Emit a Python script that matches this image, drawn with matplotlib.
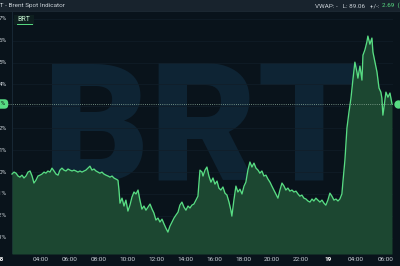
import matplotlib
matplotlib.use('Agg')
import matplotlib.pyplot as plt
from matplotlib import transforms
from matplotlib.patches import Rectangle
from matplotlib.lines import Line2D

# ---- data (hours since session start, % change vs previous close) ----
hours = [0.00, 0.14, 0.28, 0.42, 0.55, 0.69, 0.83, 0.97, 1.11, 1.25, 1.39, 1.52, 1.66, 1.80, 1.94,
         2.08, 2.22, 2.35, 2.49, 2.63, 2.77, 2.91, 3.05, 3.19, 3.32, 3.46, 3.60, 3.74, 3.88, 4.02,
         4.16, 4.29, 4.43, 4.57, 4.71, 4.85, 4.99, 5.12, 5.26, 5.40, 5.54, 5.68, 5.82, 5.96, 6.09,
         6.23, 6.37, 6.51, 6.65, 6.79, 6.93, 7.06, 7.20, 7.34, 7.41, 7.48, 7.62, 7.76, 7.89, 8.03,
         8.17, 8.31, 8.45, 8.59, 8.73, 8.86, 9.00, 9.14, 9.28, 9.42, 9.56, 9.70, 9.83, 9.97, 10.11,
         10.25, 10.39, 10.53, 10.66, 10.80, 10.94, 11.08, 11.22, 11.36, 11.50, 11.63, 11.77, 11.91,
         12.05, 12.19, 12.33, 12.46, 12.60, 12.74, 12.88, 13.02, 13.16, 13.23, 13.37, 13.50, 13.64,
         13.78, 13.92, 14.06, 14.20, 14.33, 14.47, 14.61, 14.75, 14.89, 15.03, 15.16, 15.23, 15.37,
         15.51, 15.65, 15.79, 15.93, 16.07, 16.20, 16.34, 16.48, 16.62, 16.76, 16.90, 17.04, 17.17,
         17.31, 17.45, 17.59, 17.73, 17.87, 18.00, 18.14, 18.28, 18.42, 18.56, 18.70, 18.84, 18.97,
         19.11, 19.25, 19.39, 19.53, 19.67, 19.81, 19.94, 20.08, 20.22, 20.36, 20.50, 20.64, 20.78,
         20.91, 21.05, 21.19, 21.33, 21.47, 21.61, 21.74, 21.88, 22.02, 22.16, 22.30, 22.44, 22.58,
         22.71, 22.85, 22.92, 23.06, 23.20, 23.34, 23.48, 23.61, 23.75, 23.89, 23.96, 24.10, 24.24,
         24.31, 24.44, 24.58, 24.65, 24.79, 24.93, 25.00, 25.14, 25.28, 25.42, 25.55, 25.62, 25.69,
         25.76, 25.90, 26.04, 26.18, 26.32]
pct = [-0.09, 0.00, -0.05, -0.18, -0.23, -0.14, -0.27, -0.18, 0.00, 0.05, -0.18, -0.50, -0.37, -0.18, -0.14,
       -0.09, 0.00, -0.05, 0.05, 0.00, 0.18, 0.05, -0.09, -0.14, 0.09, 0.18, 0.09, 0.05, 0.14, 0.09,
       0.05, 0.09, 0.05, 0.00, 0.05, 0.00, 0.05, 0.09, 0.18, 0.27, 0.09, 0.14, 0.05, 0.00, -0.05,
       0.00, -0.09, -0.14, -0.18, -0.23, -0.18, -0.27, -0.32, -0.37, -0.82, -1.42, -1.19, -1.55, -1.28, -1.78,
       -1.51, -1.14, -0.91, -1.00, -0.82, -1.28, -1.69, -1.55, -1.74, -1.60, -1.46, -1.69, -1.87, -2.19, -2.10,
       -2.28, -2.15, -2.37, -2.56, -2.74, -2.47, -2.28, -2.10, -1.96, -1.83, -1.51, -1.37, -1.60,
       -1.74, -1.55, -1.64, -1.51, -1.46, -1.28, -1.10, 0.09, 0.00, -0.18, 0.09, 0.23, -0.18,
       -0.46, -0.27, -0.55, -0.41, -0.73, -0.82, -0.68, -0.96, -1.05, -1.37, -1.74, -2.01, -1.28,
       -0.64, -0.91, -0.78, -1.00, -0.64, -0.46, 0.09, 0.46, 0.23, 0.41, 0.18, 0.09, -0.05,
       0.05, -0.18, -0.14, -0.32, -0.46, -0.64, -0.82, -1.00, -1.19, -0.82, -0.50, -0.64, -0.82,
       -0.73, -0.87, -0.82, -0.91, -0.87, -1.00, -1.10, -1.05, -1.19, -1.23, -1.32, -1.37, -1.23,
       -1.32, -1.19, -1.28, -1.37, -1.28, -1.42, -1.51, -1.28, -0.96, -1.10, -1.28, -1.23, -1.32,
       -1.23, -1.00, -0.46, 0.55, 2.01, 2.74, 3.38, 4.20, 5.02, 4.57, 4.29, 4.84, 4.20,
       5.34, 5.57, 5.94, 6.21, 5.84, 6.12, 5.48, 5.02, 4.57, 3.84, 3.65, 3.38, 2.60,
       2.92, 3.65, 3.42, 3.61, 3.11]

tick_hours = [-0.85, 2, 4, 6, 8, 10, 12, 14, 16, 18, 20, 21.9, 23.8, 25.9]
tick_labels = ['18', '04:00', '06:00', '08:00', '10:00', '12:00', '14:00',
               '16:00', '18:00', '20:00', '22:00', '19', '04:00', '06:00']
day_labels = ['18', '19']
y_levels = [7, 6, 5, 4, 3, 2, 1, 0, -1, -2, -3]

symbol = 'BRT'
title = 'BRT - Brent Spot Indicator'
last_price = 89.06
change = 2.69
change_pct = 3.11

# ---- style ----
BG = '#09131b'
HDR = '#18232d'
FILL = '#1c4731'
LINE = '#58dc83'
WM = '#0e2434'
GRID = '#111e28'
TXT = '#c9d0d6'
FONT = ['Roboto', 'DejaVu Sans']
plt.rcParams['font.family'] = FONT

W, H = 400, 266
fig = plt.figure(figsize=(4, 2.66), dpi=100)
fig.patch.set_facecolor(BG)

ax = fig.add_axes([-8 / W, (H - 254) / H, 401 / W, 242 / H])
ax.set_facecolor(BG)
ax.set_xlim(-1.385, 26.39)
ax.set_ylim(-3.74, 7.31)
for s in ax.spines.values():
    s.set_visible(False)
ax.set_yticks([])
ax.set_xticks(tick_hours, tick_labels)
ax.tick_params(axis='x', length=0, pad=2.2, labelsize=4.6, colors=TXT)
for lab in ax.get_xticklabels():
    if lab.get_text() in day_labels:
        lab.set_fontweight('bold')
        lab.set_color('#ffffff')

# watermark
ax.text(202 / W, 1 - 181 / H, symbol, transform=fig.transFigure, fontsize=119,
        fontweight='black', color=WM, ha='center', va='baseline', zorder=0.5)

# grid
ax.hlines(y_levels, 0, 26.39, color=GRID, lw=0.5, zorder=0.6)
ax.axvline(0, color='#182835', lw=0.7, zorder=0.6)

# area + line
ax.fill_between(hours, pct, -3.74, color=FILL, lw=0, zorder=2)
ax.plot(hours, pct, color=LINE, lw=0.95, zorder=3, solid_joinstyle='round')

# last value dotted line
ax.hlines(change_pct, -0.3, 26.39, color='#8fae9c', lw=0.6, ls=(0, (1, 1.6)), zorder=4)

trans = transforms.blended_transform_factory(fig.transFigure, ax.transData)
for lv in y_levels:
    if abs(lv - change_pct) < 0.5:
        continue  # hidden behind the last-value tag
    ax.text(7 / W, lv, f'{lv}%', transform=trans, ha='right', va='center',
            fontsize=4.6, color=TXT, clip_on=False)

# left last-value tag
ax.text(6 / W, change_pct, f'{change_pct:.2f}%', transform=trans, ha='right', va='center',
        fontsize=4.6, color='#0b1a12', zorder=6,
        bbox=dict(boxstyle='round,pad=0.35,rounding_size=0.6', fc=LINE, ec='none'))
# right marker
ax.plot([398 / W], [change_pct], transform=trans, marker='o', ms=5, color=LINE,
        clip_on=False, zorder=6)

# header bar
fig.add_artist(Rectangle((0, 1 - 10.5 / H), 1, 10.5 / H, transform=fig.transFigure,
                         fc=HDR, ec='none', zorder=5))
fig.add_artist(Line2D([0, 1], [1 - 11 / H, 1 - 11 / H], transform=fig.transFigure,
                      color='#1f2b36', lw=0.6, zorder=5))
fig.text(-7.5 / W, 1 - 5.5 / H, title, fontsize=4.6, color=TXT, va='center', zorder=6)
fig.text(379.5 / W, 1 - 5.5 / H, f'VWAP: -   L: {last_price:.2f}   +/-:', fontsize=4.6,
         color=TXT, va='center', ha='right', zorder=6)
fig.text(381.5 / W, 1 - 5.5 / H, f'{change:.2f}  ({change_pct:.2f}%)', fontsize=4.6,
         color=LINE, va='center', ha='left', zorder=6)

# symbol tag
fig.add_artist(Rectangle((14 / W, 1 - 25 / H), 20 / W, 10 / H, transform=fig.transFigure,
                         fc='#0e1f1f', ec='none', zorder=5))
fig.text(24 / W, 1 - 19.5 / H, symbol, fontsize=5, color='#bfe9cb', va='center',
         ha='center', zorder=6)
fig.add_artist(Line2D([17 / W, 31.5 / W], [1 - 23.5 / H, 1 - 23.5 / H],
                      transform=fig.transFigure, color=LINE, lw=0.7, zorder=6))

fig.savefig('out.png', dpi=100, facecolor=BG)
